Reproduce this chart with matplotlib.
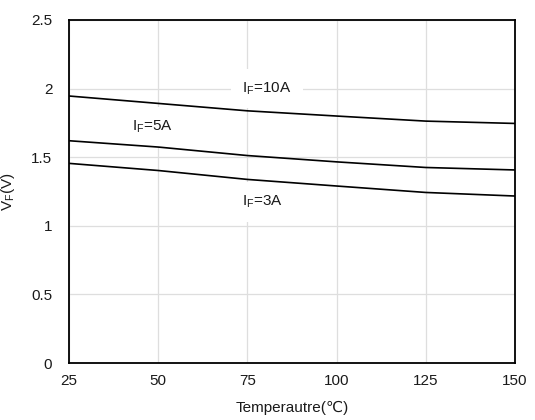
import matplotlib
matplotlib.use("Agg")
import matplotlib.pyplot as plt

plt.rcParams['font.family'] = ['Liberation Sans', 'DejaVu Sans']
plt.rcParams['mathtext.fontset'] = 'custom'
plt.rcParams['mathtext.rm'] = 'Liberation Sans'
plt.rcParams['mathtext.it'] = 'Liberation Sans'
plt.rcParams['mathtext.default'] = 'regular'

# Forward voltage vs. junction temperature
temperature = [25, 50, 75, 100, 125, 150]
vf_10a = [1.946, 1.892, 1.838, 1.800, 1.763, 1.746]
vf_5a = [1.620, 1.574, 1.512, 1.466, 1.425, 1.407]
vf_3a = [1.455, 1.403, 1.338, 1.290, 1.243, 1.217]

x_ticks = [25, 50, 75, 100, 125, 150]
y_ticks = [0, 0.5, 1, 1.5, 2, 2.5]
y_tick_labels = ['0', '0.5', '1', '1.5', '2', '2.5']

labels = ['I$_{F}$=10A', 'I$_{F}$=5A', 'I$_{F}$=3A']
label_pos = [(80.5, 2.0), (48.4, 1.72), (79.2, 1.173)]

fig = plt.figure(figsize=(5.35, 4.2), dpi=100)
ax = fig.add_axes([0.129, 0.1357, 0.8336, 0.8167])

for vals in (vf_10a, vf_5a, vf_3a):
    ax.plot(temperature, vals, color='black', linewidth=1.2, zorder=3)

ax.set_xlim(25, 150)
ax.set_ylim(0, 2.5)
ax.set_xticks(x_ticks)
ax.set_yticks(y_ticks)
ax.set_yticklabels(y_tick_labels)
ax.grid(True, color='#dedede', linewidth=0.9, zorder=0)
ax.set_axisbelow(True)
ax.tick_params(length=0, labelsize=11, colors='#1a1a1a')
ax.tick_params(axis='x', pad=8)
ax.tick_params(axis='y', pad=12)
for sp in ax.spines.values():
    sp.set_linewidth(1.3)
    sp.set_color('black')

for txt, (tx, ty) in zip(labels, label_pos):
    ax.text(tx, ty, txt, ha='center', va='center', fontsize=11, color='#1a1a1a',
            bbox=dict(boxstyle='square,pad=0.75', facecolor='white', edgecolor='none'),
            zorder=2)

ax.set_xlabel('Temperautre(℃)', fontsize=11, labelpad=9, color='#1a1a1a')
ax.set_ylabel('V$_{F}$(V)', fontsize=11, labelpad=10, color='#1a1a1a')

fig.savefig('out.png', dpi=100, facecolor='white')
